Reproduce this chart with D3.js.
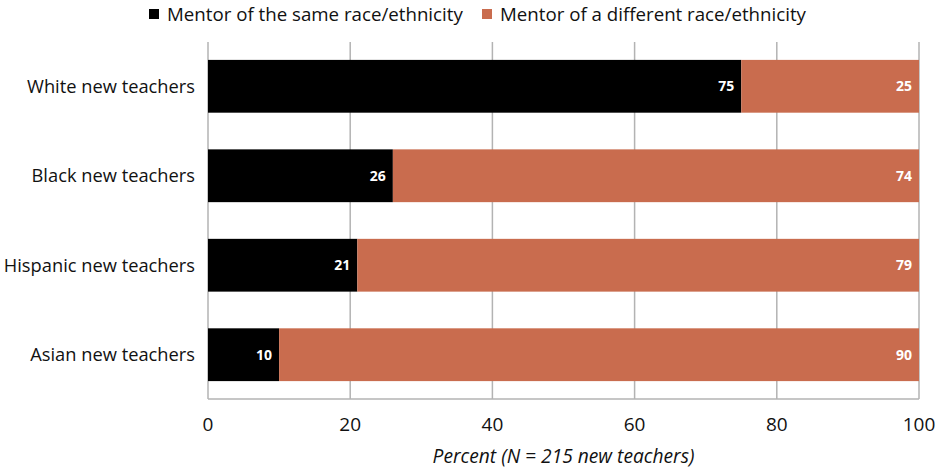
<!DOCTYPE html>
<html>
<head>
<meta charset="utf-8">
<script src="https://cdn.jsdelivr.net/npm/d3@7"></script>
<style>
  body { margin: 0; background: #fff; }
  text { font-family: "Open Sans", sans-serif; }
</style>
</head>
<body>
<svg id="chart"></svg>
<script>
// data
const categories = ["White new teachers", "Black new teachers", "Hispanic new teachers", "Asian new teachers"];
const sameRace = [75, 26, 21, 10];
const diffRace = [25, 74, 79, 90];
const seriesNames = ["Mentor of the same race/ethnicity", "Mentor of a different race/ethnicity"];
const tickValues = [0, 20, 40, 60, 80, 100];

const width = 935, height = 468;
const margin = {top: 42, right: 16, bottom: 69, left: 208};
const colors = ["#000000", "#C96C4E"];

const svg = d3.select("#chart").attr("width", width).attr("height", height);

const x = d3.scaleLinear().domain([0, 100]).range([margin.left, width - margin.right]);
const y = d3.scaleBand().domain(categories).range([margin.top, height - margin.bottom]).paddingInner(0.41).paddingOuter(0.2);

// gridlines
svg.append("g").selectAll("line")
  .data(tickValues)
  .enter().append("line")
  .attr("x1", d => x(d)).attr("x2", d => x(d))
  .attr("y1", margin.top).attr("y2", height - margin.bottom)
  .attr("stroke", "#b3b3b3").attr("stroke-width", 1.5);

svg.append("line")
  .attr("x1", x(0)).attr("x2", x(100))
  .attr("y1", height - margin.bottom).attr("y2", height - margin.bottom)
  .attr("stroke", "#b3b3b3").attr("stroke-width", 1.5);

// stacked bars
const rows = categories.map((c, i) => ({cat: c, vals: [sameRace[i], diffRace[i]]}));

rows.forEach(r => {
  let start = 0;
  r.vals.forEach((v, k) => {
    svg.append("rect")
      .attr("x", x(start))
      .attr("y", y(r.cat))
      .attr("width", x(start + v) - x(start))
      .attr("height", y.bandwidth())
      .attr("fill", colors[k]);
    svg.append("text")
      .attr("x", x(start + v) - 7)
      .attr("y", y(r.cat) + y.bandwidth() / 2)
      .attr("dy", "0.35em")
      .attr("text-anchor", "end")
      .attr("fill", "#fff")
      .attr("font-weight", "bold")
      .attr("font-size", 14)
      .text(v);
    start += v;
  });
});

// y labels
svg.append("g").selectAll("text")
  .data(categories)
  .enter().append("text")
  .attr("x", margin.left - 13)
  .attr("y", d => y(d) + y.bandwidth() / 2)
  .attr("dy", "0.35em")
  .attr("text-anchor", "end")
  .attr("font-size", 18.3)
  .attr("fill", "#111")
  .text(d => d);

// x tick labels
svg.append("g").selectAll("text")
  .data(tickValues)
  .enter().append("text")
  .attr("x", d => x(d))
  .attr("y", 424)
  .attr("dy", "0.35em")
  .attr("text-anchor", "middle")
  .attr("font-size", 19)
  .attr("fill", "#111")
  .text(d => d);

// x title
svg.append("text")
  .attr("x", (x(0) + x(100)) / 2)
  .attr("y", 456)
  .attr("dy", "0.35em")
  .attr("text-anchor", "middle")
  .attr("font-size", 19.2)
  .attr("font-style", "italic")
  .attr("fill", "#111")
  .text("Percent (N = 215 new teachers)");

// legend
const legendX = [149, 482];
seriesNames.forEach((name, k) => {
  svg.append("rect")
    .attr("x", legendX[k]).attr("y", 9)
    .attr("width", 10).attr("height", 10)
    .attr("fill", colors[k]);
  svg.append("text")
    .attr("x", legendX[k] + 18)
    .attr("y", 14)
    .attr("dy", "0.35em")
    .attr("font-size", 18.7)
    .attr("fill", "#111")
    .text(name);
});
</script>
</body>
</html>
